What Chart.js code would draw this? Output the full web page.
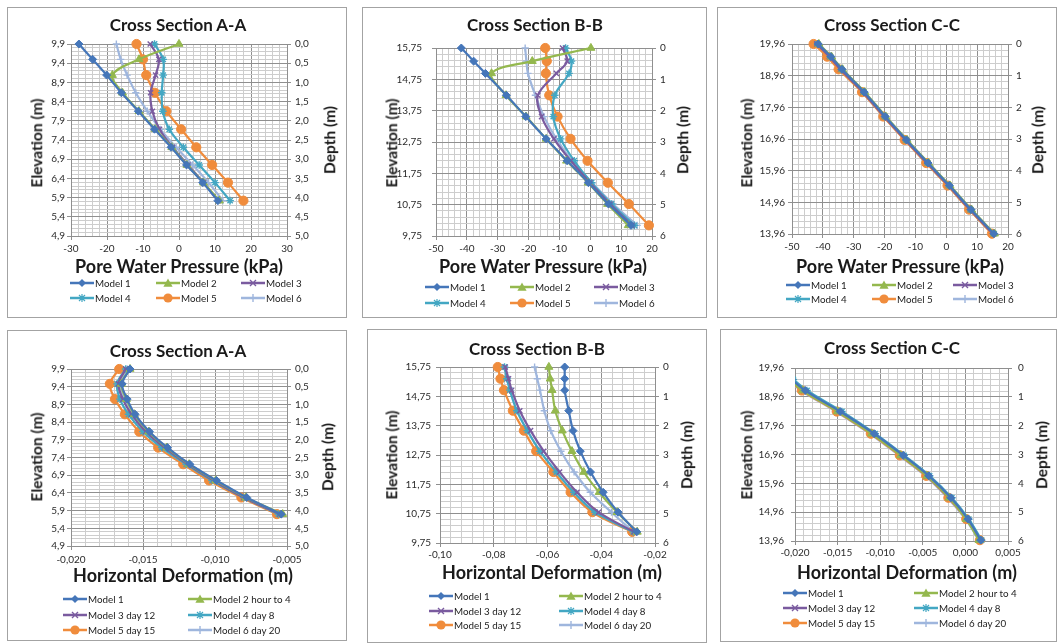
<!DOCTYPE html>
<html>
<head>
<meta charset="utf-8">
<script src="https://cdn.jsdelivr.net/npm/chart.js"></script>
<style>
body{margin:0;background:#fff;width:1059px;height:644px;position:relative;overflow:hidden;font-family:Lato,"Open Sans",sans-serif;color:#1a1a1a}
.panel{position:absolute;border:1px solid #a3a3a3;box-sizing:border-box}
.t{position:absolute;white-space:nowrap;font-weight:bold;transform:translate(-50%,-50%);line-height:1}
.rot{transform:translate(-50%,-50%) rotate(-90deg)}
canvas{position:absolute}
.lg{position:absolute;white-space:nowrap;line-height:10px;display:flex;align-items:center;color:#222}
.lg svg{margin-right:1px}
</style>
</head>
<body>
<script>
// ---- data ----
const legendTop = ['Model 1','Model 2','Model 3','Model 4','Model 5','Model 6'];
const legendBottom = ['Model 1','Model 2 hour to 4','Model 3 day 12','Model 4 day 8','Model 5 day 15','Model 6 day 20'];

const pwpTicksA  = [-30,-20,-10,0,10,20,30];
const pwpTicksBC = [-50,-40,-30,-20,-10,0,10,20];
const defTicksA  = [-0.020,-0.015,-0.010,-0.005];
const defTicksB  = [-0.10,-0.08,-0.06,-0.04,-0.02];
const defTicksC  = [-0.020,-0.015,-0.010,-0.005,0.000,0.005];
const elevTicksA = [9.9,9.4,8.9,8.4,7.9,7.4,6.9,6.4,5.9,5.4,4.9];
const elevTicksB = [15.75,14.75,13.75,12.75,11.75,10.75,9.75];
const elevTicksC = [19.96,18.96,17.96,16.96,15.96,14.96,13.96];
const depthTicksA  = [0,0.5,1,1.5,2,2.5,3,3.5,4,4.5,5];
const depthTicksBC = [0,1,2,3,4,5,6];

// pore water pressure, section A-A
const elevPwpA = [9.9, 9.5, 9.09, 8.63, 8.15, 7.68, 7.21, 6.75, 6.29, 5.82];
const pwpA1 = [-27.8, -24.0, -20.1, -16.0, -11.3, -6.8, -2.2, 2.1, 6.6, 10.8];
const pwpA2 = [0.0, -11.1, -18.5, -15.7, -11.1, -6.6, -2.0, 2.2, 6.8, 11.2];
const pwpA3 = [-8.0, -5.6, -6.5, -7.9, -7.4, -5.4, -1.8, 2.5, 6.8, 10.9];
const pwpA4 = [-6.8, -4.4, -4.4, -4.8, -4.5, -2.7, 1.2, 5.6, 10.0, 14.2];
const pwpA5 = [-11.8, -10.0, -9.1, -6.7, -3.5, 0.6, 4.8, 9.2, 13.6, 17.9];
const pwpA6 = [-17.4, -16.2, -14.4, -12.0, -8.8, -5.2, -0.8, 3.8, 8.2, 12.2];

// pore water pressure, section B-B
const elevPwpB = [15.75, 15.33, 14.94, 14.24, 13.56, 12.85, 12.15, 11.45, 10.77, 10.09];
const pwpB1 = [-41.8, -37.8, -34.0, -27.2, -20.9, -14.3, -7.5, -0.6, 5.9, 13.2];
const pwpB2 = [0.2, -18.8, -32.0, -27.3, -20.8, -14.3, -7.7, -0.7, 5.6, 12.3];
const pwpB3 = [-9.0, -7.5, -11.0, -17.0, -15.8, -11.8, -6.3, -0.1, 6.4, 13.5];
const pwpB4 = [-8.0, -6.1, -6.9, -11.5, -12.0, -9.6, -5.2, 0.4, 6.9, 14.3];
const pwpB5 = [-14.6, -14.1, -14.4, -13.3, -10.6, -6.4, -0.9, 5.7, 12.5, 19.0];
const pwpB6 = [-21.1, -20.7, -20.2, -17.8, -15.0, -11.0, -5.9, 0.6, 7.4, 15.2];

// pore water pressure, section C-C
const elevPwpC = [19.96, 19.56, 19.16, 18.44, 17.67, 16.93, 16.2, 15.49, 14.73, 13.97];
const pwpC1 = [-41.5, -37.4, -33.8, -26.6, -19.8, -12.9, -5.9, 1.0, 8.0, 15.4];
const pwpC2 = [-41.3, -37.2, -33.6, -26.4, -19.6, -12.7, -5.7, 1.2, 8.2, 15.6];
const pwpC3 = [-42.0, -37.9, -34.3, -27.0, -20.1, -13.2, -6.2, 0.7, 7.7, 15.1];
const pwpC4 = [-41.7, -37.6, -34.0, -26.7, -19.9, -13.0, -6.0, 0.9, 7.9, 15.5];
const pwpC5 = [-43.0, -38.6, -34.9, -27.3, -20.4, -13.5, -6.5, 0.4, 7.4, 14.8];
const pwpC6 = [-42.4, -38.2, -34.6, -27.2, -20.3, -13.4, -6.4, 0.5, 7.5, 14.9];

// horizontal deformation, section A-A
const elevDefA = [9.9, 9.48, 9.05, 8.62, 8.13, 7.68, 7.21, 6.75, 6.27, 5.8];
const defA1 = [-0.0159, -0.01645, -0.0161, -0.01555, -0.01455, -0.0133, -0.01175, -0.0099, -0.0078, -0.0054];
const defA2 = [-0.0159, -0.0165, -0.01615, -0.0156, -0.0146, -0.01335, -0.0118, -0.00995, -0.00785, -0.0053];
const defA3 = [-0.0162, -0.0167, -0.0164, -0.0158, -0.0148, -0.0135, -0.0119, -0.0101, -0.0080, -0.0055];
const defA4 = [-0.0162, -0.0168, -0.0166, -0.0160, -0.0150, -0.0137, -0.0120, -0.0102, -0.0080, -0.0056];
const defA5 = [-0.01665, -0.0173, -0.01695, -0.01626, -0.01526, -0.01395, -0.01221, -0.01041, -0.00817, -0.0057];
const defA6 = [-0.0161, -0.0166, -0.0163, -0.0157, -0.0147, -0.0134, -0.0119, -0.0100, -0.0079, -0.0055];

// horizontal deformation, section B-B
const elevDefB = [15.75, 15.35, 14.96, 14.26, 13.58, 12.88, 12.17, 11.48, 10.8, 10.13];
const defB1 = [-0.0536, -0.0536, -0.0536, -0.0521, -0.0505, -0.0478, -0.0440, -0.0393, -0.0337, -0.0268];
const defB2 = [-0.0595, -0.0590, -0.0583, -0.0571, -0.0545, -0.0509, -0.0465, -0.0408, -0.0341, -0.0266];
const defB3 = [-0.0757, -0.0745, -0.0733, -0.0703, -0.0663, -0.0614, -0.0555, -0.0490, -0.0410, -0.0278];
const defB4 = [-0.0760, -0.0751, -0.0740, -0.0714, -0.0675, -0.0628, -0.0567, -0.0502, -0.0423, -0.0281];
const defB5 = [-0.0785, -0.0775, -0.0762, -0.0729, -0.0688, -0.0642, -0.0578, -0.0514, -0.0433, -0.0285];
const defB6 = [-0.0648, -0.0638, -0.0628, -0.0612, -0.0588, -0.0550, -0.0501, -0.0441, -0.0362, -0.0281];

// horizontal deformation, section C-C
const elevDefC = [19.96, 19.56, 19.18, 18.45, 17.68, 16.93, 16.22, 15.46, 14.72, 13.99];
const defC1 = [-0.0222, -0.0204, -0.0188, -0.0147, -0.0107, -0.0073, -0.0043, -0.0017, 0.0003, 0.0018];
const defC2 = [-0.0225, -0.0207, -0.0191, -0.0150, -0.0110, -0.0076, -0.0045, -0.0019, 0.0001, 0.0016];
const defC3 = [-0.0224, -0.0206, -0.0190, -0.0149, -0.0109, -0.0075, -0.0045, -0.0019, 0.0002, 0.0017];
const defC4 = [-0.0220, -0.0202, -0.0186, -0.0145, -0.0106, -0.0072, -0.0042, -0.0016, 0.0004, 0.0019];
const defC5 = [-0.0226, -0.0208, -0.0192, -0.0151, -0.0111, -0.0077, -0.0046, -0.0020, 0.0001, 0.0017];
const defC6 = [-0.0227, -0.0209, -0.0193, -0.0152, -0.0112, -0.0078, -0.0047, -0.0021, 0.0000, 0.0016];

// ---- styles ----
const modelColors = ['#4576b9', '#94b84e', '#7a5b9f', '#43a7c3', '#f08c3c', '#9fb6dd'];
const modelMarkers = ['rectRot', 'triangle', 'crossRot', 'star', 'circle', 'cross'];
const markerSize = [4, 4.6, 3.6, 3.8, 4.6, 3.6];
const GRID_MAJOR = '#8f8f8f', GRID_MINOR = '#cdcdcd';
const FONT = 'Lato, "Open Sans", sans-serif';

function fmt(v, d) { return v.toFixed(d).replace('.', ','); }
function near(v, list) { return list.some(m => Math.abs(m - v) < 1e-9); }
function steps(a, b, st) {
  const lo = Math.min(a, b), hi = Math.max(a, b);
  const n = Math.round((hi - lo) / st);
  const out = [];
  for (let i = 0; i <= n; i++) out.push(+(lo + i * st).toFixed(6));
  return out;
}

const panels = [
  {box:[7,7,340,311], L:71, R:287, T:44, B:236, xT:pwpTicksA, xMin:2, xDec:0, yT:elevTicksA, yMin:0.1, yDec:1, dT:depthTicksA, dDec:1,
   ys:elevPwpA, xs:[pwpA1,pwpA2,pwpA3,pwpA4,pwpA5,pwpA6], padL:2, padR:4, padX:3, xSize:18, lgSize:9.8,
   title:'Cross Section A-A', xTitle:'Pore Water Pressure (kPa)', tp:[178,24], ep:[37,143], dp:[330,140], xp:[179,266],
   names:legendTop, cols:[70,156,241], rows:[283,298]},
  {box:[362,7,345,311], L:436, R:652, T:44, B:236, xT:pwpTicksBC, xMin:2, xDec:0, yT:elevTicksB, yMin:0.2, yDec:2, dT:depthTicksBC, dDec:0,
   ys:elevPwpB, xs:[pwpB1,pwpB2,pwpB3,pwpB4,pwpB5,pwpB6], padL:10, padR:4, padX:3, xSize:18, lgSize:9.8,
   title:'Cross Section B-B', xTitle:'Pore Water Pressure (kPa)', tp:[535,24], ep:[392,143], dp:[683,140], xp:[543,266],
   names:legendTop, cols:[425,510,594], rows:[287,303]},
  {box:[717,7,340,311], L:792, R:1008, T:44, B:234, xT:pwpTicksBC, xMin:2, xDec:0, yT:elevTicksC, yMin:0.2, yDec:2, dT:depthTicksBC, dDec:0,
   ys:elevPwpC, xs:[pwpC1,pwpC2,pwpC3,pwpC4,pwpC5,pwpC6], padL:3, padR:4, padX:3, xSize:18, lgSize:9.8,
   title:'Cross Section C-C', xTitle:'Pore Water Pressure (kPa)', tp:[892,24], ep:[747,143], dp:[1038,140], xp:[900,266],
   names:legendTop, cols:[786,872,953], rows:[285,299]},
  {box:[7,330,340,311], L:71, R:287, T:369, B:546, xT:defTicksA, xMin:0.001, xDec:3, yT:elevTicksA, yMin:0.1, yDec:1, dT:depthTicksA, dDec:1,
   ys:elevDefA, xs:[defA1,defA2,defA3,defA4,defA5,defA6], padL:2, padR:4, padX:4, xSize:18, lgSize:9.8,
   title:'Cross Section A-A', xTitle:'Horizontal Deformation (m)', tp:[178,350], ep:[37,457], dp:[328,457], xp:[183,575],
   names:legendBottom, cols:[63,188], rows:[599,615,630]},
  {box:[367,329,340,314], L:440, R:655, T:367, B:543, xT:defTicksB, xMin:0.004, xDec:2, yT:elevTicksB, yMin:0.2, yDec:2, dT:depthTicksBC, dDec:0,
   ys:elevDefB, xs:[defB1,defB2,defB3,defB4,defB5,defB6], padL:5, padR:4, padX:2, xSize:18, lgSize:9.8,
   title:'Cross Section B-B', xTitle:'Horizontal Deformation (m)', tp:[537,348], ep:[392,455], dp:[687,455], xp:[552,572],
   names:legendBottom, cols:[429,559], rows:[596,611,625]},
  {box:[720,329,337,313], L:795, R:1008, T:367, B:541, xT:defTicksC, xMin:0.001, xDec:3, yT:elevTicksC, yMin:0.2, yDec:2, dT:depthTicksBC, dDec:0,
   ys:elevDefC, xs:[defC1,defC2,defC3,defC4,defC5,defC6], padL:7, padR:6, padX:2, xSize:18, lgSize:9.8, clipLeft:true,
   title:'Cross Section C-C', xTitle:'Horizontal Deformation (m)', tp:[892,347], ep:[747,455], dp:[1042,455], xp:[907,572],
   names:legendBottom, cols:[783,914], rows:[593,608,623]}
];

function addText(txt, pos, size, rot) {
  const d = document.createElement('div');
  d.className = 't' + (rot ? ' rot' : '');
  d.style.left = pos[0] + 'px';
  d.style.top = pos[1] + 'px';
  d.style.fontSize = size + 'px';
  d.textContent = txt;
  document.body.appendChild(d);
}

function markerSvg(i, c) {
  switch (i) {
    case 0: return `<polygon points="12,1 16,5 12,9 8,5" fill="${c}"/>`;
    case 1: return `<polygon points="12,0.4 16.6,8.8 7.4,8.8" fill="${c}"/>`;
    case 2: return `<path d="M9,2L15,8M15,2L9,8" stroke="${c}" stroke-width="1.4"/>`;
    case 3: return `<path d="M9,2L15,8M15,2L9,8M12,1V9M8,5H16" stroke="${c}" stroke-width="1.2"/>`;
    case 4: return `<circle cx="12" cy="5" r="4.6" fill="${c}"/>`;
    default: return `<path d="M12,1V9M8,5H16" stroke="${c}" stroke-width="1.4"/>`;
  }
}

function addLegend(p) {
  const nc = p.cols.length;
  p.names.forEach((name, i) => {
    const d = document.createElement('div');
    d.className = 'lg';
    d.style.fontSize = p.lgSize + 'px';
    d.style.left = p.cols[i % nc] + 'px';
    d.style.top = (p.rows[Math.floor(i / nc)] - 5) + 'px';
    const c = modelColors[i];
    d.innerHTML = `<svg width="24" height="10"><line x1="0" y1="5" x2="24" y2="5" stroke="${c}" stroke-width="2.5"/>${markerSvg(i, c)}</svg><span>${name}</span>`;
    document.body.appendChild(d);
  });
}

function buildChart(p) {
  const pb = document.createElement('div');
  pb.className = 'panel';
  pb.style.left = p.box[0] + 'px'; pb.style.top = p.box[1] + 'px';
  pb.style.width = p.box[2] + 'px'; pb.style.height = p.box[3] + 'px';
  document.body.appendChild(pb);

  const W = p.R - p.L, H = p.B - p.T;
  const padT = 12, side = 50, bot = 30;
  const cv = document.createElement('canvas');
  cv.width = W + 2 * side; cv.height = H + padT + bot;
  cv.style.left = (p.L - side) + 'px'; cv.style.top = (p.T - padT) + 'px';
  cv.style.width = cv.width + 'px'; cv.style.height = cv.height + 'px';
  document.body.appendChild(cv);

  const xLo = Math.min(...p.xT), xHi = Math.max(...p.xT);
  const yLo = Math.min(...p.yT), yHi = Math.max(...p.yT);
  const dHi = Math.max(...p.dT);
  const tickFont = {family: FONT, size: 10};

  const datasets = p.xs.map((xv, i) => ({
    label: p.names[i],
    data: xv.map((x, j) => ({x: x, y: p.ys[j]})),
    showLine: true,
    borderColor: modelColors[i],
    backgroundColor: modelColors[i],
    pointBackgroundColor: modelColors[i],
    pointBorderColor: modelColors[i],
    pointBorderWidth: (i === 2 || i === 3 || i === 5) ? 1.4 : 1,
    pointStyle: modelMarkers[i],
    pointRadius: markerSize[i],
    borderWidth: 2.2,
    tension: 0.35,
    fill: false,
    clip: p.clipLeft ? {left: 0, top: 8, right: 8, bottom: 8} : false
  }));

  new Chart(cv, {
    type: 'scatter',
    data: {datasets},
    options: {
      responsive: false,
      animation: false,
      events: [],
      layout: {padding: {top: padT, left: 0, right: 0, bottom: 0}},
      elements: {line: {capBezierPoints: false}},
      plugins: {legend: {display: false}, tooltip: {enabled: false}},
      scales: {
        x: {
          type: 'linear', position: 'bottom', min: xLo, max: xHi,
          afterBuildTicks: s => { s.ticks = steps(xLo, xHi, p.xMin).map(v => ({value: v})); },
          afterFit: s => { s.height = bot; },
          ticks: {autoSkip: false, maxRotation: 0, padding: p.padX, color: '#2b2b2b', font: tickFont,
                  callback: v => near(v, p.xT) ? fmt(v, p.xDec) : ''},
          grid: {color: c => near(c.tick.value, p.xT) ? GRID_MAJOR : GRID_MINOR,
                 tickColor: c => near(c.tick.value, p.xT) ? GRID_MAJOR : 'rgba(0,0,0,0)',
                 tickLength: 4, lineWidth: 1},
          border: {color: GRID_MAJOR}
        },
        y: {
          type: 'linear', position: 'left', min: yLo, max: yHi,
          afterBuildTicks: s => { s.ticks = steps(yLo, yHi, p.yMin).map(v => ({value: v})); },
          afterFit: s => { s.width = side; },
          ticks: {autoSkip: false, padding: p.padL, color: '#2b2b2b', font: tickFont,
                  callback: v => near(v, p.yT) ? fmt(v, p.yDec) : ''},
          grid: {color: c => near(c.tick.value, p.yT) ? GRID_MAJOR : GRID_MINOR,
                 tickColor: c => near(c.tick.value, p.yT) ? GRID_MAJOR : 'rgba(0,0,0,0)',
                 tickLength: 4, lineWidth: 1},
          border: {color: GRID_MAJOR}
        },
        depth: {
          type: 'linear', position: 'right', min: 0, max: dHi, reverse: true,
          afterBuildTicks: s => { s.ticks = p.dT.map(v => ({value: v})); },
          afterFit: s => { s.width = side; },
          ticks: {autoSkip: false, padding: p.padR, color: '#2b2b2b', font: tickFont,
                  callback: v => fmt(v, p.dDec)},
          grid: {drawOnChartArea: false, tickColor: GRID_MAJOR, tickLength: 4},
          border: {color: GRID_MAJOR}
        }
      }
    }
  });

  addText(p.title, p.tp, 17, false);
  addText('Elevation (m)', p.ep, 15.5, true);
  addText('Depth (m)', p.dp, 15.5, true);
  addText(p.xTitle, p.xp, p.xSize, false);
  addLegend(p);
}

panels.forEach(buildChart);
</script>
</body>
</html>
